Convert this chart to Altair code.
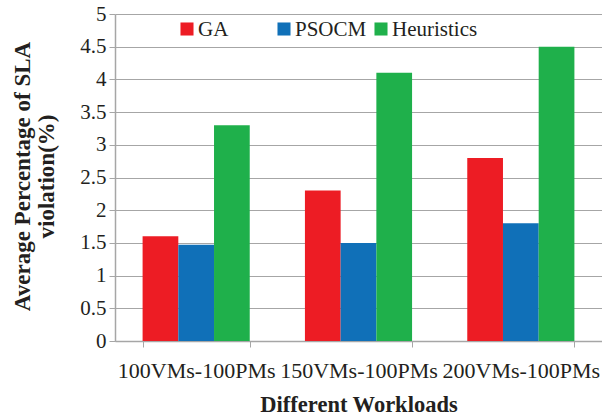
import altair as alt
import pandas as pd

workloads = ["100VMs-100PMs", "150VMs-100PMs", "200VMs-100PMs"]
algorithms = ["GA", "PSOCM", "Heuristics"]
ga = [1.6, 2.3, 2.8]
psocm = [1.47, 1.5, 1.8]
heuristics = [3.3, 4.1, 4.5]
colors = ["#ED1C24", "#1070B8", "#1FB04B"]
y_ticks = [0, 0.5, 1, 1.5, 2, 2.5, 3, 3.5, 4, 4.5, 5]

rows = []
for alg, vals in zip(algorithms, [ga, psocm, heuristics]):
    for w, v in zip(workloads, vals):
        rows.append({"Workload": w, "Algorithm": alg, "Value": v})
df = pd.DataFrame(rows)
leg = pd.DataFrame({"Algorithm": algorithms})

FONT = "Liberation Serif"
GRID = "#A6A6A6"
TEXT = "#231F20"

color_scale = alt.Scale(domain=algorithms, range=colors)

bars = alt.Chart(df).mark_bar().encode(
    x=alt.X("Workload:N", sort=workloads,
            scale=alt.Scale(paddingInner=0.34, paddingOuter=0.17),
            axis=alt.Axis(title="Different Workloads", labelAngle=0, tickBand="extent",
                          labelFontSize=22, labelPadding=13, titlePadding=12, tickSize=6,
                          titleFontSize=22.5, titleFontWeight="bold")),
    xOffset=alt.XOffset("Algorithm:N", sort=algorithms, scale=alt.Scale(paddingInner=0, paddingOuter=0)),
    y=alt.Y("Value:Q", scale=alt.Scale(domain=[0, 5], nice=False),
            axis=alt.Axis(title=["Average Percentage of SLA", "violation(%)"], values=y_ticks,
                          format="~g", labelFontSize=21, tickSize=6, labelPadding=3,
                          titleFontSize=23, titleFontWeight="bold", titleLineHeight=24,
                          titleX=-93, titleY=162, titleAlign="center", titleBaseline="middle",
                          titleAngle=270)),
    color=alt.Color("Algorithm:N", sort=algorithms, scale=color_scale, legend=None),
)

# legend drawn from the algorithm list through a point scale
leg_x = alt.X("Algorithm:N", sort=algorithms,
              scale=alt.Scale(type="point", domain=algorithms, range=[72, 266], padding=0),
              axis=None)

leg_sym = alt.Chart(leg).mark_square(size=170, opacity=1).encode(
    x=leg_x, y=alt.value(15),
    color=alt.Color("Algorithm:N", scale=color_scale, legend=None),
)
leg_txt = alt.Chart(leg).mark_text(align="left", baseline="middle", dx=11, dy=1,
                                   font=FONT, fontSize=21, color=TEXT).encode(
    x=leg_x, y=alt.value(15), text="Algorithm:N",
)

chart = alt.layer(bars, leg_sym, leg_txt).resolve_scale(x="independent").properties(
    width=487, height=327,
    padding={"left": 115, "top": 14, "right": 0, "bottom": 75},
    autosize=alt.AutoSizeParams(type="none"),
).configure(font=FONT).configure_view(stroke=None).configure_text(font=FONT).configure_axis(
    labelFont=FONT, titleFont=FONT, labelColor=TEXT, titleColor=TEXT,
    domainColor=GRID, tickColor=GRID, gridColor=GRID, domainWidth=1.5, gridWidth=1.2,
).configure_axisY(grid=True).configure_axisX(grid=False)

chart.save("out.html", embed_options={"renderer": "svg", "actions": False})
